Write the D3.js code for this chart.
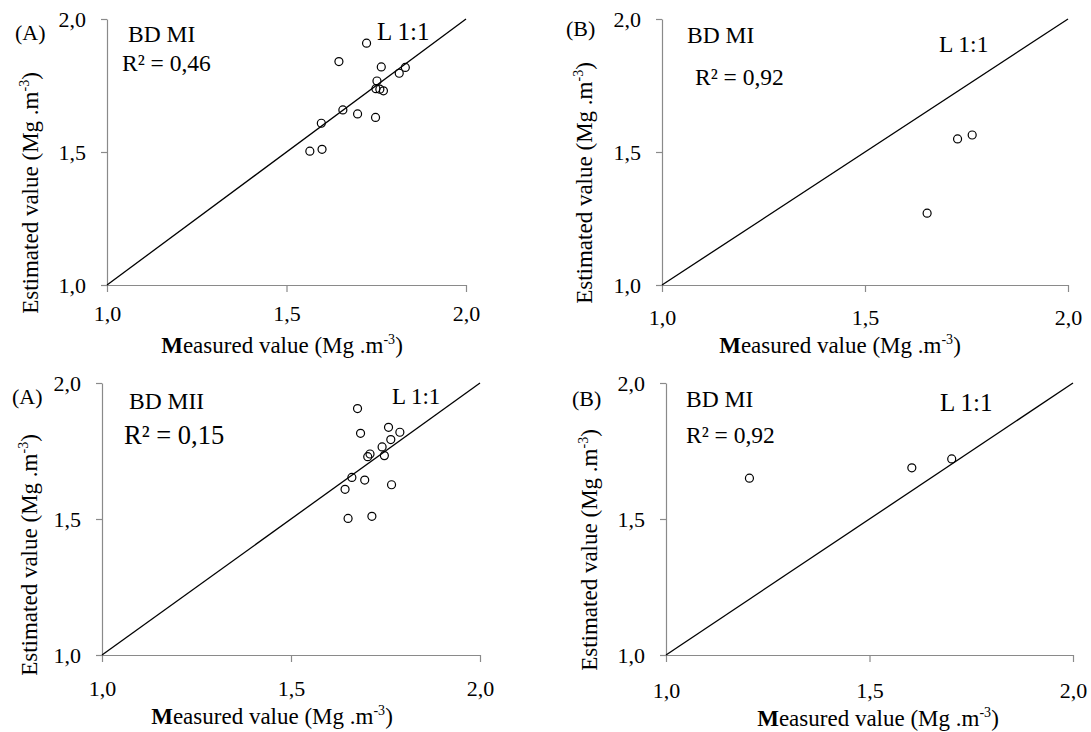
<!DOCTYPE html>
<html>
<head>
	<meta charset="utf-8">
	<title></title>
	<style type="text/css">
		body {
			margin: 0;
			background: #fff;
		}
		svg text {
			font-family: "Liberation Serif", "Times New Roman", serif;
			fill: #000;
		}
		.axis path, .axis line {
			stroke: #8a8a8a;
			stroke-width: 1.2;
		}
	</style>
</head>
<body>
	<svg class="viz" width="1091" height="732"></svg>

	<script src="https://d3js.org/d3.v7.min.js" charset="utf-8"></script>
	<script type="text/javascript">

		var ticks = [1.0, 1.5, 2.0];
		var panelLetters = ['(A)', '(B)', '(A)', '(B)'];
		var panelNames = ['BD MI', 'BD MI', 'BD MII', 'BD MI'];
		var r2Labels = ['R\u00b2 = 0,46', 'R\u00b2 = 0,92', 'R\u00b2 = 0,15', 'R\u00b2 = 0,92'];

		var measured1 = [1.723, 1.646, 1.764, 1.831, 1.814, 1.752, 1.749, 1.760, 1.770, 1.657, 1.698, 1.748, 1.597, 1.565, 1.599];
		var estimated1 = [1.909, 1.840, 1.820, 1.818, 1.796, 1.767, 1.738, 1.736, 1.730, 1.658, 1.643, 1.630, 1.608, 1.503, 1.510];

		var measured2 = [1.728, 1.764, 1.653];
		var estimated2 = [1.549, 1.564, 1.270];

		var measured3 = [1.676, 1.684, 1.758, 1.788, 1.764, 1.741, 1.747, 1.709, 1.703, 1.661, 1.695, 1.643, 1.766, 1.651, 1.714];
		var estimated3 = [1.906, 1.815, 1.837, 1.819, 1.792, 1.765, 1.733, 1.739, 1.729, 1.653, 1.643, 1.609, 1.626, 1.502, 1.510];

		var measured4 = [1.205, 1.604, 1.702];
		var estimated4 = [1.650, 1.688, 1.721];

		var measuredAll = [measured1, measured2, measured3, measured4];
		var estimatedAll = [estimated1, estimated2, estimated3, estimated4];

		// panel geometry
		var layout = [
			{ left: 107, right: 466, top: 19, bottom: 285, xPad: 13,
				letter: [15, 40], name: [128, 42], r2: [122, 71], line: [377, 40], lineSize: 25,
				r2Size: 23.5, ytitle: [38, 193], xtitle: [282, 353] },
			{ left: 662, right: 1068, top: 19, bottom: 285, xPad: 17,
				letter: [566, 36], name: [687, 43], r2: [695, 85], line: [939, 52], lineSize: 23.5,
				r2Size: 23.5, ytitle: [592, 183], xtitle: [840, 353] },
			{ left: 102, right: 480, top: 383, bottom: 655, xPad: 18,
				letter: [12, 404], name: [129, 409], r2: [124, 444], line: [392, 404], lineSize: 23,
				r2Size: 26.5, ytitle: [37, 555], xtitle: [272, 724] },
			{ left: 666, right: 1073, top: 383, bottom: 655, xPad: 20,
				letter: [572, 406], name: [686, 407], r2: [686, 443], line: [940, 411], lineSize: 25,
				r2Size: 23.5, ytitle: [597, 550], xtitle: [878, 726] }
		];

		var canvas = d3.select('.viz');
		var fmt = function(d) { return d3.format('.1f')(d).replace('.', ','); };

		layout.forEach(function(p, i) {
			var x = d3.scaleLinear().domain([1, 2]).range([p.left, p.right]);
			var y = d3.scaleLinear().domain([1, 2]).range([p.bottom, p.top]);
			var g = canvas.append('g');

			// axes
			var yAxis = g.append('g')
				.attr('class', 'axis')
				.attr('transform', 'translate(' + p.left + ',0)')
				.call(d3.axisLeft(y).tickValues(ticks).tickFormat(fmt).tickSize(6).tickSizeOuter(0).tickPadding(15));
			var xAxis = g.append('g')
				.attr('class', 'axis')
				.attr('transform', 'translate(0,' + p.bottom + ')')
				.call(d3.axisBottom(x).tickValues(ticks).tickFormat(fmt).tickSize(7).tickSizeOuter(0).tickPadding(p.xPad));
			g.selectAll('.axis text')
				.style('font-family', '"Liberation Serif", "Times New Roman", serif')
				.style('font-size', '22px')
				.attr('fill', '#000');

			// 1:1 line
			g.append('line')
				.attr('x1', x(1)).attr('y1', y(1))
				.attr('x2', x(2)).attr('y2', y(2))
				.attr('stroke', '#000')
				.attr('stroke-width', 1.3);

			// points
			var pts = d3.zip(measuredAll[i], estimatedAll[i]);
			g.selectAll('circle').data(pts)
				.enter().append('circle')
					.attr('cx', function(d) { return x(d[0]); })
					.attr('cy', function(d) { return y(d[1]); })
					.attr('r', 4)
					.attr('fill', 'none')
					.attr('stroke', '#000')
					.attr('stroke-width', 1.2);

			// labels inside the panel
			g.append('text').attr('x', p.letter[0]).attr('y', p.letter[1])
				.style('font-size', '22px').text(panelLetters[i]);
			g.append('text').attr('x', p.name[0]).attr('y', p.name[1])
				.style('font-size', '23.5px').text(panelNames[i]);
			g.append('text').attr('x', p.r2[0]).attr('y', p.r2[1])
				.style('font-size', p.r2Size + 'px').text(r2Labels[i]);
			g.append('text').attr('x', p.line[0]).attr('y', p.line[1])
				.style('font-size', p.lineSize + 'px').text('L 1:1');

			// axis titles
			var xt = g.append('text')
				.attr('x', p.xtitle[0]).attr('y', p.xtitle[1])
				.attr('text-anchor', 'middle')
				.style('font-size', '23px');
			xt.append('tspan').style('font-weight', 'bold').text('M');
			xt.append('tspan').text('easured value (Mg .m');
			xt.append('tspan').attr('dy', -9).style('font-size', '14px').text('-3');
			xt.append('tspan').attr('dy', 9).text(')');

			var yt = g.append('text')
				.attr('transform', 'translate(' + p.ytitle[0] + ',' + p.ytitle[1] + ') rotate(-90)')
				.attr('text-anchor', 'middle')
				.style('font-size', '23px');
			yt.append('tspan').text('Estimated value (Mg .m');
			yt.append('tspan').attr('dy', -9).style('font-size', '14px').text('-3');
			yt.append('tspan').attr('dy', 9).text(')');
		});

	</script>
</body>
</html>
